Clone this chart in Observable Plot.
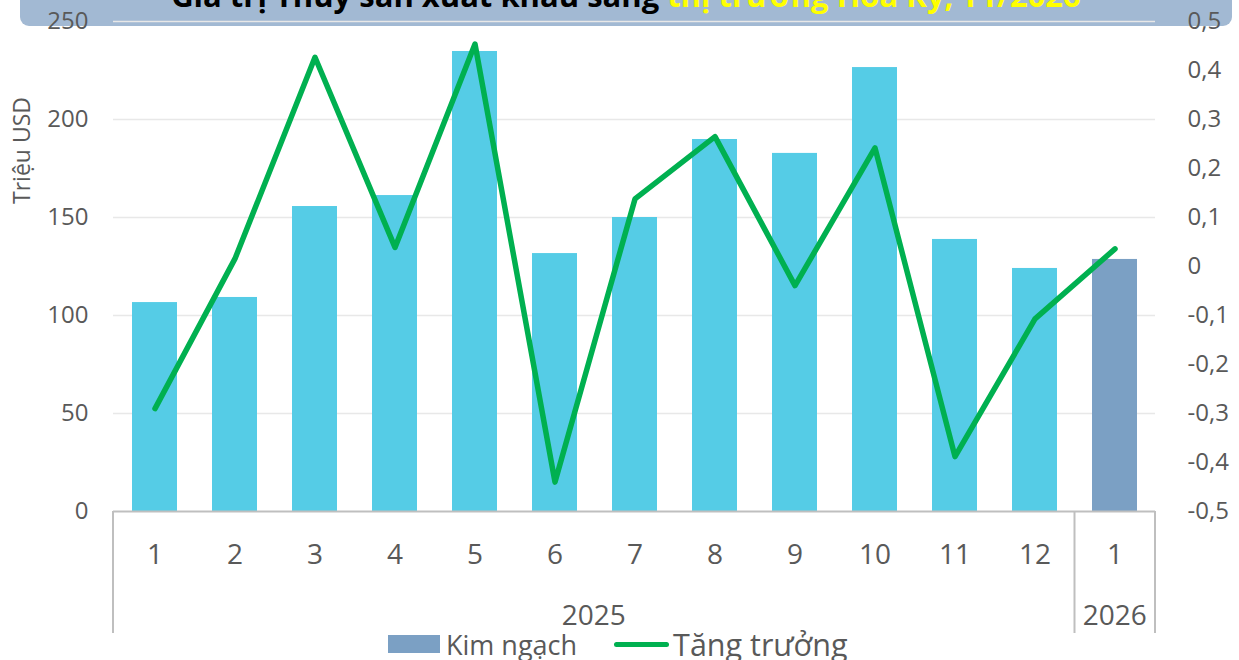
<!DOCTYPE html>
<html>
<head>
<meta charset="utf-8">
<script src="https://cdn.jsdelivr.net/npm/d3@7"></script>
<script src="https://cdn.jsdelivr.net/npm/@observablehq/plot@0.6"></script>
<style>
  body { margin: 0; background: #fff; }
  #wrap { position: relative; width: 1239px; height: 660px; overflow: hidden; font-family: "Open Sans", sans-serif; }
  #banner { position: absolute; left: 20px; top: -20px; width: 1212px; height: 46px; background: #a2b9d3; border-radius: 9px; }
  #title { position: absolute; left: 20px; width: 1212px; top: -20.5px; text-align: center; font-weight: 700; font-size: 31px; line-height: 1; white-space: nowrap; color: #000; }
  #title .hl { color: #ffff00; }
  #chart { position: absolute; left: 0; top: 0; }
  #legend { position: absolute; left: 388px; top: 623px; display: flex; align-items: center; color: #595959; white-space: nowrap; }
  #legend .sw { width: 52px; height: 18px; background: #7ba0c4; margin-right: 6px; }
  #legend .ln { width: 55px; height: 5px; border-radius: 3px; background: #00b050; margin-left: 37px; margin-right: 4px; }
</style>
</head>
<body>
<div id="wrap">
  <div id="banner"></div>
  <div id="title">Giá trị Thủy sản xuất khẩu sang <span class="hl">thị trường Hoa Kỳ, T1/2026</span></div>
  <div id="chart"></div>
  <div id="legend">
    <div class="sw"></div><span style="font-size:27px">Kim ngạch</span>
    <div class="ln"></div><span style="font-size:30.5px">Tăng trưởng</span>
  </div>
</div>
<script>
// ---- data ----
const months = ["1","2","3","4","5","6","7","8","9","10","11","12","1"];
const years  = ["2025","2025","2025","2025","2025","2025","2025","2025","2025","2025","2025","2025","2026"];
const kimNgach   = [106.6, 109.2, 155.6, 161.2, 234.7, 131.6, 150.0, 189.8, 182.7, 226.5, 138.8, 124.0, 128.6];
const tangTruong = [-0.29, 0.016, 0.427, 0.039, 0.454, -0.44, 0.138, 0.265, -0.039, 0.242, -0.388, -0.107, 0.036];
const leftTicks  = [0, 50, 100, 150, 200, 250];
const rightTicks = [-0.5, -0.4, -0.3, -0.2, -0.1, 0, 0.1, 0.2, 0.3, 0.4, 0.5];
const yearNames  = ["2025", "2026"];
const yearColors = ["#55cce6", "#7ba0c4"];

const keys = months.map((m, i) => years[i] + "-" + m);
const data = keys.map((k, i) => ({key: k, month: months[i], year: years[i], kim: kimNgach[i], g: tangTruong[i]}));

const leftMax = leftTicks[leftTicks.length - 1];
const rMin = rightTicks[0], rMax = rightTicks[rightTicks.length - 1];
const toLeft = g => (g - rMin) / (rMax - rMin) * leftMax;
const toRight = v => rMin + v / leftMax * (rMax - rMin);
const fmtR = v => { const g = Math.round(toRight(v) * 10) / 10; return g === 0 ? "0" : String(g).replace(".", ","); };

const gray = "#595959";

function groupAxis(index, scales, values, dims) {
  const x = scales.x;
  const bw = typeof x.bandwidth === "function" ? x.bandwidth() : (scales.scales?.x?.bandwidth ?? 0);
  const xs = keys.map(k => x(k));
  const left = dims.marginLeft, right = dims.width - dims.marginRight;
  const y0 = dims.height - dims.marginBottom;
  const bounds = [left];
  const groups = [];
  for (let i = 1; i <= keys.length; i++) {
    if (i === keys.length || years[i] !== years[i - 1]) {
      groups.push(years[i - 1]);
      bounds.push(i === keys.length ? right : (xs[i - 1] + xs[i]) / 2 + bw / 2);
    }
  }
  const g = d3.create("svg:g");
  for (const b of bounds) {
    g.append("line").attr("x1", b).attr("x2", b).attr("y1", y0).attr("y2", dims.height)
      .attr("stroke", "#bfbfbf").attr("stroke-width", 2);
  }
  groups.forEach((name, j) => {
    g.append("text").attr("x", (bounds[j] + bounds[j + 1]) / 2).attr("y", y0 + 114)
      .attr("text-anchor", "middle").attr("fill", gray).attr("font-size", 28)
      .attr("font-family", "Open Sans").text(name);
  });
  return g.node();
}

const chart = Plot.plot({
  width: 1239,
  height: 633,
  marginTop: 21,
  marginBottom: 122,
  marginLeft: 113,
  marginRight: 84,
  style: {background: "transparent", fontFamily: "Open Sans", color: gray, overflow: "visible"},
  x: {type: "band", domain: keys, paddingInner: 0.44, paddingOuter: 0.22},
  y: {domain: [0, leftMax]},
  color: {domain: yearNames, range: yearColors},
  marks: [
    Plot.gridY(leftTicks.slice(1), {stroke: "#e8e8e8", strokeOpacity: 1, strokeWidth: 1.5}),
    Plot.barY(data, {x: "key", y: "kim", fill: "year"}),
    Plot.ruleY([0], {stroke: "#bfbfbf", strokeWidth: 2}),
    Plot.line(data, {x: "key", y: d => toLeft(d.g), stroke: "#00b050", strokeWidth: 5.5, strokeLinejoin: "round", strokeLinecap: "round"}),
    Plot.axisY(leftTicks, {anchor: "left", tickSize: 0, tickPadding: 25, fontSize: 24, label: null}),
    Plot.axisY(rightTicks.map(toLeft), {anchor: "right", tickSize: 0, tickPadding: 32, fontSize: 24, tickFormat: fmtR, label: null}),
    Plot.axisX({tickSize: 0, tickPadding: 33, fontSize: 28, tickFormat: k => k.split("-")[1], label: null}),
    Plot.text(["Triệu USD"], {frameAnchor: "top-left", textAnchor: "middle", lineAnchor: "middle", rotate: -90, dx: -91, dy: 129, fontSize: 23, fill: gray}),
    groupAxis
  ]
});
document.getElementById("chart").appendChild(chart);
</script>
</body>
</html>
